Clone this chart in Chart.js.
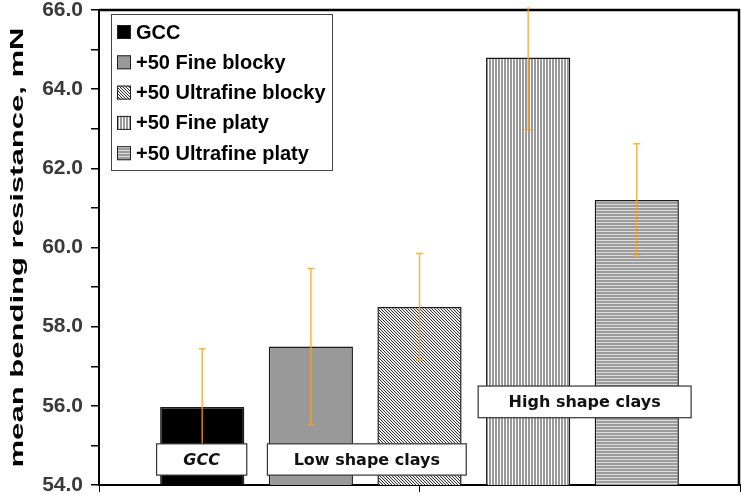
<!DOCTYPE html>
<html>
<head>
<meta charset="utf-8">
<script src="https://cdn.jsdelivr.net/npm/chart.js@4"></script>
<style>
html,body{margin:0;padding:0;background:#fff;}
</style>
</head>
<body>
<canvas id="chart" width="741" height="495"></canvas>
<script>
const categories = ["GCC","+50 Fine blocky","+50 Ultrafine blocky","+50 Fine platy","+50 Ultrafine platy"];
const means = [55.97,57.5,58.5,64.8,61.2];
const errors = [1.47,1.97,1.35,1.83,1.42];
const yTickValues = [54,56,58,60,62,64,66];
const yTickLabels = ["54.0","56.0","58.0","60.0","62.0","64.0","66.0"];
const groupLabels = ["GCC","Low shape clays","High shape clays"];
const yTitle = "mean bending resistance, mN";

// group boxes, in data units
const groupBoxes = [
{x0:0.58,x1:1.41,y0:54.25,y1:55.04,font:'italic bold 16px "DejaVu Sans"'},
{x0:1.6,x1:3.43,y0:54.25,y1:55.04,font:'bold 16px "DejaVu Sans"'},
{x0:3.54,x1:5.5,y0:55.7,y1:56.5,font:'bold 16px "DejaVu Sans"'}
];

const ctx0 = document.getElementById("chart").getContext("2d");
function tile(w,h,draw){
const c=document.createElement("canvas");
c.width=w;c.height=h;
draw(c.getContext("2d"));
return ctx0.createPattern(c,"repeat");
}

const fills = [
"#000000",
"#999999",
tile(3,3,g=>{
g.fillStyle="#f0f0f0";g.fillRect(0,0,3,3);
g.fillStyle="#2e2e2e";
for(let i=0;i<3;i++){g.fillRect(i,i,1,1);}
}),
tile(3,3,g=>{
g.fillStyle="#ffffff";g.fillRect(0,0,3,3);
g.fillStyle="#999999";g.fillRect(0,0,2,3);
}),
tile(3,3,g=>{
g.fillStyle="#dddddd";g.fillRect(0,0,3,3);
g.fillStyle="#9c9c9c";g.fillRect(0,1,3,2);
})
];

const frame = {
id:"frame",
afterDatasetsDraw(chart){
const {ctx,chartArea:a}=chart;
ctx.save();
ctx.strokeStyle="#000";
ctx.lineWidth=2.5;
ctx.beginPath();
ctx.moveTo(a.left,a.top);
ctx.lineTo(a.right-1,a.top);
ctx.lineTo(a.right-1,a.bottom);
ctx.stroke();
ctx.restore();
}
};

const errorBars = {
id:"errorBars",
afterDatasetsDraw(chart){
const {ctx,chartArea:a,scales:{y}}=chart;
const meta=chart.getDatasetMeta(0);
ctx.save();
ctx.beginPath();
ctx.rect(a.left,a.top-3,a.width,a.height+3);
ctx.clip();
ctx.strokeStyle="rgba(255,160,20,0.8)";
ctx.lineWidth=1.5;
meta.data.forEach((bar,i)=>{
const hi=y.getPixelForValue(means[i]+errors[i]);
const lo=y.getPixelForValue(means[i]-errors[i]);
ctx.beginPath();
ctx.moveTo(bar.x,hi);ctx.lineTo(bar.x,lo);
ctx.moveTo(bar.x-3.5,hi);ctx.lineTo(bar.x+3.5,hi);
ctx.moveTo(bar.x-3.5,lo);ctx.lineTo(bar.x+3.5,lo);
ctx.stroke();
});
ctx.restore();
}
};

const groupNotes = {
id:"groupNotes",
afterDatasetsDraw(chart){
const {ctx,scales:{x,y}}=chart;
ctx.save();
groupBoxes.forEach((b,i)=>{
const l=x.getPixelForValue(b.x0),r=x.getPixelForValue(b.x1);
const t=y.getPixelForValue(b.y1),btm=y.getPixelForValue(b.y0);
ctx.fillStyle="#fff";
ctx.fillRect(l,t,r-l,btm-t);
ctx.strokeStyle="#333";
ctx.lineWidth=1.2;
ctx.strokeRect(l,t,r-l,btm-t);
ctx.fillStyle="#111";
ctx.font=b.font;
ctx.textAlign="center";
ctx.textBaseline="middle";
ctx.fillText(groupLabels[i],(l+r)/2,(t+btm)/2+1);
});
ctx.restore();
}
};

const boxLegend = {
id:"boxLegend",
afterDatasetsDraw(chart){
const {ctx,chartArea:a}=chart;
const bx=a.left+12,by=a.top+4;
ctx.save();
ctx.fillStyle="#fff";
ctx.fillRect(bx,by,221,156);
ctx.strokeStyle="#444";
ctx.lineWidth=1;
ctx.strokeRect(bx+0.5,by+0.5,221,156);
ctx.font='bold 20px "Liberation Sans", Arial, sans-serif';
ctx.textBaseline="middle";
ctx.textAlign="left";
categories.forEach((c,i)=>{
const cy=by+18+i*30.3;
ctx.fillStyle=fills[i];
ctx.fillRect(bx+6,cy-7,14,14);
ctx.strokeStyle="#222";
ctx.strokeRect(bx+6.5,cy-6.5,13,13);
ctx.fillStyle="#000";
ctx.fillText(c,bx+25,cy+1);
});
ctx.restore();
}
};

// axis title, stretched along its length like the original
const sideTitle = {
id:"sideTitle",
afterDraw(chart){
const {ctx,chartArea:a}=chart;
ctx.save();
ctx.translate(18.5,(a.top+a.bottom)/2);
ctx.rotate(-Math.PI/2);
ctx.font='bold 18px "Liberation Sans", Arial, sans-serif';
const w=ctx.measureText(yTitle).width;
ctx.scale(440/w,1);
ctx.fillStyle="#000";
ctx.textAlign="center";
ctx.textBaseline="middle";
ctx.fillText(yTitle,0,0);
ctx.restore();
}
};

new Chart(
document.getElementById("chart"),
{
type:"bar",
data:{
datasets:[{
label:"mean bending resistance",
data:means.map((v,i)=>({x:i+1,y:v})),
backgroundColor:fills,
borderColor:"#1a1a1a",
borderWidth:1.5,
barPercentage:0.775,
categoryPercentage:1
}]
},
options:{
responsive:false,
animation:false,
layout:{padding:{top:10,right:1,left:0,bottom:0}},
plugins:{legend:{display:false},tooltip:{enabled:false}},
scales:{
x:{
type:"linear",
min:0.05,
max:5.95,
offset:false,
afterBuildTicks:s=>{s.ticks=[{value:0.05},{value:3},{value:5.95}];},
ticks:{display:false},
grid:{offset:false,drawOnChartArea:false,drawTicks:true,tickLength:7,color:"#000",lineWidth:1},
border:{color:"#000",width:2},
afterFit:s=>{s.height=10;s.paddingLeft=0;s.paddingRight=0;}
},
y:{
min:54,
max:66,
ticks:{
stepSize:1,
callback:v=>{const k=yTickValues.indexOf(v);return k<0?"":yTickLabels[k];},
color:"#3a3a3a",
font:{family:'"Liberation Sans", Arial, sans-serif',weight:"bold",size:21,lineHeight:1},
padding:8
},
grid:{drawOnChartArea:false,tickLength:8,color:"#000",lineWidth:1.5},
border:{color:"#000",width:2},
afterFit:s=>{s.width=99;s.paddingTop=0;s.paddingBottom=0;}
}
}
},
plugins:[frame,errorBars,groupNotes,boxLegend,sideTitle]
});
</script>
</body>
</html>
